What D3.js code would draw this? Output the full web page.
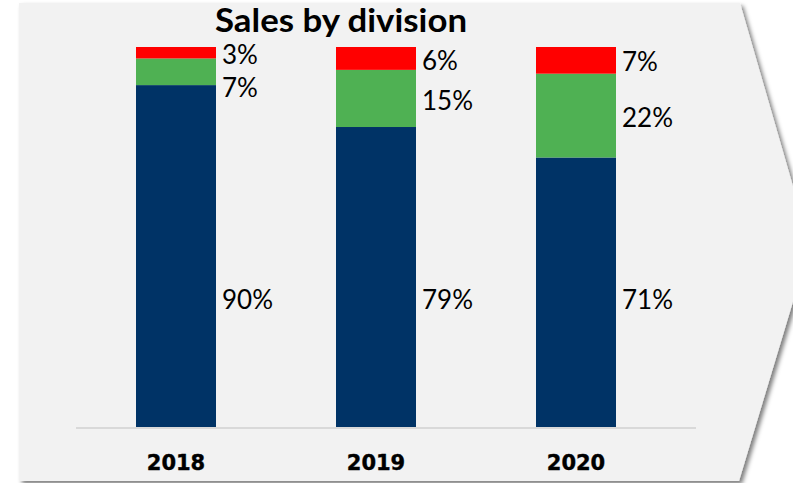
<!DOCTYPE html>
<html>
<head>
<meta charset="utf-8">
<script src="https://cdn.jsdelivr.net/npm/d3@7"></script>
<style>
  html, body { margin: 0; padding: 0; background: #ffffff; }
  svg { display: block; }
</style>
</head>
<body>
<svg id="chart" width="793" height="483"></svg>
<script>
// ---- data ----
const title = "Sales by division";
const years = ["2018", "2019", "2020"];
const seriesNames = ["Division A", "Division B", "Division C"]; // bottom -> top
const divisionA = [90, 79, 71];
const divisionB = [7, 15, 22];
const divisionC = [3, 6, 7];
const seriesColors = ["#003366", "#4FB153", "#FF0000"];

// ---- layout ----
const W = 793, H = 483;
const svg = d3.select("#chart");

const defs = svg.append("defs");
const f = defs.append("filter").attr("id", "shadow")
  .attr("x", "-5%").attr("y", "-5%").attr("width", "115%").attr("height", "115%");
f.append("feDropShadow").attr("dx", 3).attr("dy", 3).attr("stdDeviation", 2.2)
  .attr("flood-color", "#000").attr("flood-opacity", 0.5);

// chevron panel
const panel = [[19, 3], [740, 3], [810, 245], [739, 481], [19, 481]];
svg.append("polygon")
  .attr("points", panel.map(p => p.join(",")).join(" "))
  .attr("fill", "#F2F2F2")
  .attr("filter", "url(#shadow)");

const x = d3.scaleBand().domain(years).range([76, 696])
  .paddingInner(0.6).paddingOuter(0.35).align(3 / 7);
const y = d3.scaleLinear().domain([0, 100]).range([428, 47]);

const table = years.map((yr, i) => ({
  year: yr,
  "Division A": divisionA[i],
  "Division B": divisionB[i],
  "Division C": divisionC[i]
}));
const stack = d3.stack().keys(seriesNames)(table);

// bars
const g = svg.append("g");
stack.forEach((layer, si) => {
  g.selectAll(null).data(layer).enter().append("rect")
    .attr("x", d => x(d.data.year))
    .attr("width", x.bandwidth())
    .attr("y", d => y(d[1]))
    .attr("height", d => y(d[0]) - y(d[1]))
    .attr("fill", seriesColors[si]);
});

// axis baseline
const axis = d3.axisBottom(x).tickSize(0).tickPadding(0);
const axG = svg.append("g").attr("transform", `translate(0,${y(0)})`).call(axis);
axG.select(".domain").attr("d", "M76,0H696").attr("stroke", "#D9D9D9").attr("stroke-width", 2);
axG.selectAll(".tick text")
  .attr("y", 42)
  .attr("dy", 0)
  .attr("font-family", "DejaVu Sans")
  .attr("font-weight", "bold")
  .attr("font-size", 21)
  .attr("stroke", "#000")
  .attr("stroke-width", 0.4)
  .attr("fill", "#000");

// value labels
const labelFont = 26;
years.forEach((yr, i) => {
  const xr = x(yr) + x.bandwidth() + 6;
  const top = stack[2][i], mid = stack[1][i];
  const yTop = (y(top[0]) + y(top[1])) / 2 + 2;
  const yMid = Math.max((y(mid[0]) + y(mid[1])) / 2 + 2, yTop + 33);
  const yBot = y(33.5);
  const items = [[divisionC[i], yTop], [divisionB[i], yMid], [divisionA[i], yBot]];
  items.forEach(([v, cy]) => {
    svg.append("text")
      .attr("x", xr)
      .attr("y", cy + labelFont * 0.35)
      .attr("font-family", "Lato")
      .attr("font-size", labelFont)
      .attr("fill", "#000")
      .text(v + "%");
  });
});

// title
svg.append("text")
  .attr("x", 341).attr("y", 32)
  .attr("text-anchor", "middle")
  .attr("font-family", "Lato")
  .attr("font-weight", "bold")
  .attr("font-size", 32)
  .attr("textLength", 252)
  .attr("lengthAdjust", "spacingAndGlyphs")
  .attr("fill", "#000")
  .text(title);
</script>
</body>
</html>
